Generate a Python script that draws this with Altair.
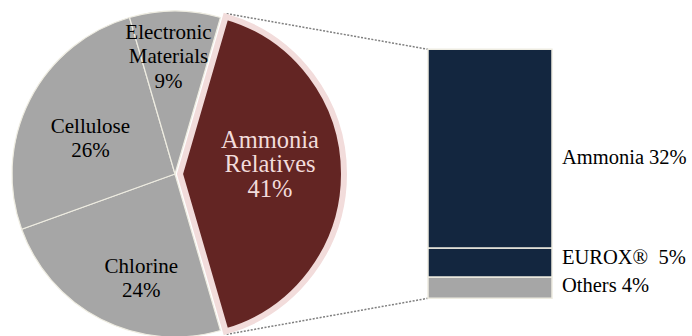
import math
import altair as alt
import pandas as pd

# ---- data ----
pie_segments = ["Ammonia Relatives", "Chlorine", "Cellulose", "Electronic Materials"]
pie_values = [41, 24, 26, 9]

bar_segments = ["Others", "EUROX®", "Ammonia"]
bar_values = [3.5, 4.8, 32.7]
bar_labels = ["Others 4%", "EUROX®\u00a0 5%", "Ammonia 32%"]

# ---- layout / style ----
W, H = 692, 336
PIE_CX, PIE_CY, PIE_R = 175, 174, 163
EXPLODE = 5
AMM_CX = PIE_CX + EXPLODE
AMM_R = 164
AMM_STROKE = 6
BAR_X0, BAR_X1 = 428, 552
BAR_TOP, BAR_BOTTOM = 49.3, 298.3
LABEL_X = 562
LH = 24.5

FONT = "Liberation Serif"
DARK_RED = "#632523"
PINK = "#f2dcdb"
GRAY = "#a6a6a6"
NAVY = "#13263f"
EDGE = "#eeece1"
DOT = "#7f7f7f"

total = sum(pie_values)
share_amm = pie_values[0] / total
a0 = math.pi / 2 - math.pi * share_amm
theta_scale = alt.Scale(domain=[0, total], range=[a0, a0 + 2 * math.pi])

pie_df = pd.DataFrame({"segment": pie_segments, "value": pie_values})
base = (
    alt.Chart(pie_df)
    .transform_window(rn="row_number()")
    .transform_stack(stack="value", groupby=[], as_=["t0", "t1"], sort=[alt.SortField("rn")])
    .transform_calculate(
        tm="(datum.t0 + datum.t1) / 2",
        label="replace(datum.segment, ' ', '\\n') + '\\n' + datum.value + '%'",
    )
)

amm_name = pie_segments[0]
gray_arcs = base.transform_filter(f"datum.segment != '{amm_name}'").mark_arc(
    x=PIE_CX, y=PIE_CY, radius=PIE_R, fill=GRAY, stroke=EDGE, strokeWidth=1.2
).encode(theta=alt.Theta("t0:Q", scale=theta_scale), theta2="t1:Q")

amm_arc = base.transform_filter(f"datum.segment == '{amm_name}'").mark_arc(
    x=AMM_CX, y=PIE_CY, radius=AMM_R, fill=DARK_RED, stroke=PINK,
    strokeWidth=AMM_STROKE, strokeJoin="miter"
).encode(theta=alt.Theta("t0:Q", scale=theta_scale), theta2="t1:Q")

# (dx, dy, number of lines)
gray_offsets = {
    "Electronic Materials": (-6.5, -12, 3),
    "Cellulose": (9, 12.5, 2),
    "Chlorine": (14, 11.5, 2),
}
gray_labels = []
for seg, (ddx, ddy, n) in gray_offsets.items():
    gray_labels.append(
        base.transform_filter(f"datum.segment == '{seg}'").mark_text(
            x=PIE_CX, y=PIE_CY, radius=105, dx=ddx, dy=ddy - (n - 1) * LH / 2,
            font=FONT, fontSize=21, lineHeight=LH, lineBreak="\n",
            align="center", baseline="middle", color="black"
        ).encode(theta=alt.Theta("tm:Q", scale=theta_scale), text="label:N")
    )

amm_label = base.transform_filter(f"datum.segment == '{amm_name}'").mark_text(
    x=AMM_CX, y=PIE_CY, radius=90, dy=-9 - LH,
    font=FONT, fontSize=24.5, lineHeight=LH, lineBreak="\n",
    align="center", baseline="middle", color=PINK
).encode(theta=alt.Theta("tm:Q", scale=theta_scale), text="label:N")

# ---- bar of pie ----
bar_df = pd.DataFrame({"segment": bar_segments, "value": bar_values, "label": bar_labels})
bar_base = (
    alt.Chart(bar_df)
    .transform_window(rn="row_number()")
    .transform_stack(stack="value", groupby=[], as_=["b0", "b1"], sort=[alt.SortField("rn")])
    .transform_calculate(bm="(datum.b0 + datum.b1) / 2")
)
y_scale = alt.Scale(domain=[0, pie_values[0]], range=[BAR_BOTTOM, BAR_TOP])

bars = bar_base.mark_bar(stroke=EDGE, strokeWidth=1.5).encode(
    x=alt.value(BAR_X0), x2=alt.value(BAR_X1),
    y=alt.Y("b0:Q", scale=y_scale, axis=None), y2="b1:Q",
    color=alt.Color("segment:N", scale=alt.Scale(domain=bar_segments, range=[GRAY, NAVY, NAVY]), legend=None),
)

bar_offsets = {"Ammonia": 9.7, "EUROX®": -4.6, "Others": -1.9}
bar_texts = []
for seg, ddy in bar_offsets.items():
    bar_texts.append(
        bar_base.transform_filter(alt.datum.segment == seg).mark_text(
            align="left", baseline="middle", font=FONT, fontSize=20.5, color="black", dy=ddy
        ).encode(x=alt.value(LABEL_X), y=alt.Y("bm:Q", scale=y_scale, axis=None), text="label:N")
    )

# ---- connector lines (from exploded slice corners to bar corners) ----
r_out = AMM_R + AMM_STROKE / 2
ang_s = a0
ang_e = a0 + 2 * math.pi * share_amm
top_pt = (AMM_CX + r_out * math.sin(ang_s), PIE_CY - r_out * math.cos(ang_s))
bot_pt = (AMM_CX + r_out * math.sin(ang_e), PIE_CY - r_out * math.cos(ang_e))
line_anchor = alt.Chart(pd.DataFrame({"k": [0]}))
rules = []
for (px, py), by in [(top_pt, BAR_TOP), (bot_pt, BAR_BOTTOM)]:
    rules.append(
        line_anchor.mark_rule(color=DOT, strokeWidth=1.5, strokeDash=[2, 1.5]).encode(
            x=alt.value(px), y=alt.value(py), x2=alt.value(BAR_X0), y2=alt.value(by)
        )
    )

chart = alt.layer(
    *rules, gray_arcs, amm_arc, *gray_labels, amm_label, bars, *bar_texts
).properties(
    width=W, height=H, padding=0, autosize=alt.AutoSizeParams(type="none"), background="white"
).configure_view(stroke=None)

chart.save("out.html", embed_options={"renderer": "svg", "actions": False})
